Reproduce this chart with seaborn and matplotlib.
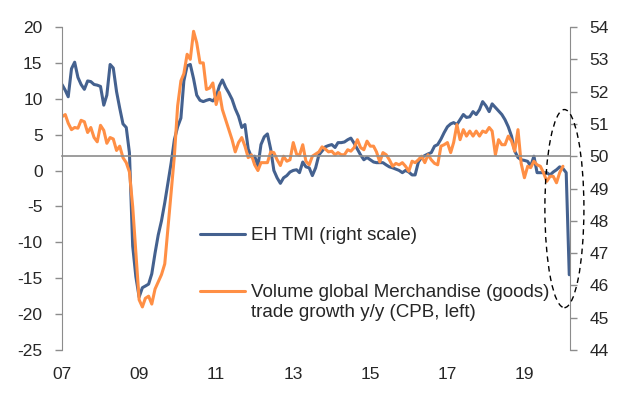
import numpy as np
import pandas as pd
import seaborn as sns
import matplotlib.pyplot as plt
import matplotlib.dates as mdates
from matplotlib.patches import Ellipse
from matplotlib.legend_handler import HandlerLine2D

sns.set_style("white")
plt.rcParams['font.family'] = ['Liberation Sans', 'DejaVu Sans']

# monthly data, Jan 2007 onwards
months = pd.date_range("2007-01-01", "2020-03-01", freq="MS")

# EH TMI (right scale), Jan 2007 - Mar 2020
tmi = [52.22, 52.04, 51.84, 52.71, 52.91, 52.44, 52.22, 52.07, 52.33, 52.31,
       52.22, 52.20, 52.16, 51.58, 51.89, 52.84, 52.73, 52.00, 51.49, 51.00,
       50.89, 50.11, 47.22, 46.27, 45.64, 45.93, 45.98, 46.04, 46.36, 47.00,
       47.56, 48.00, 48.56, 49.18, 49.80, 50.51, 50.91, 51.18, 52.33, 52.80,
       52.84, 52.40, 51.89, 51.73, 51.69, 51.73, 51.76, 51.71, 51.84, 52.18,
       52.36, 52.13, 51.96, 51.76, 51.47, 51.24, 50.89, 50.98, 50.22, 49.98,
       50.00, 49.69, 50.36, 50.60, 50.69, 50.22, 49.56, 49.33, 49.16, 49.33,
       49.40, 49.51, 49.56, 49.58, 49.49, 49.82, 49.67, 49.64, 49.40, 49.64,
       50.04, 50.16, 50.29, 50.33, 50.36, 50.27, 50.42, 50.42, 50.44, 50.51,
       50.56, 50.40, 50.22, 50.04, 49.89, 49.96, 49.89, 49.82, 49.80, 49.80,
       49.80, 49.73, 49.67, 49.64, 49.60, 49.56, 49.49, 49.56, 49.51, 49.42,
       49.42, 49.82, 49.96, 50.02, 50.07, 50.11, 50.31, 50.36, 50.53, 50.73,
       50.91, 51.00, 51.04, 50.98, 51.13, 51.29, 51.20, 51.22, 51.38, 51.29,
       51.44, 51.69, 51.56, 51.38, 51.62, 51.51, 51.40, 51.29, 51.13, 50.91,
       50.62, 50.16, 49.96, 49.89, 49.87, 49.84, 49.69, 50.00, 49.49, 49.49,
       49.49, 49.49, 49.42, 49.51, 49.58, 49.67, 49.62, 49.49, 46.33]

# World merchandise trade volume growth y/y % (left scale), Jan 2007 - Jan 2020
trade = [7.5, 7.8, 6.6, 5.7, 6.0, 5.9, 7.0, 6.8, 5.3, 6.0,
         4.6, 4.0, 6.3, 5.6, 3.8, 4.6, 4.4, 2.8, 3.4, 1.8,
         1.1, -0.2, -5.0, -11.5, -18.0, -19.0, -17.8, -17.5, -18.6, -16.5,
         -15.5, -14.5, -13.0, -8.0, -3.0, 2.0, 9.0, 12.5, 13.5, 16.2,
         15.5, 19.4, 17.8, 15.0, 15.0, 11.3, 11.5, 12.2, 9.2, 10.9,
         8.5, 7.1, 5.7, 4.3, 2.6, 3.9, 4.6, 3.4, 1.8, 2.2,
         0.8, 0.0, 1.1, 1.1, 1.1, 2.6, 2.5, 1.5, 0.7, 2.0,
         1.3, 1.5, 3.9, 2.3, 2.1, 3.6, 1.3, 0.8, 2.0, 2.3,
         2.6, 3.3, 3.0, 2.6, 2.7, 2.2, 2.5, 2.2, 2.2, 2.9,
         2.7, 3.2, 4.3, 3.2, 2.9, 4.1, 3.4, 3.4, 2.6, 1.2,
         2.5, 2.2, 1.5, 0.6, 1.0, 0.8, 1.1, 0.6, -0.1, 1.3,
         1.1, 1.5, 2.0, 1.1, 2.2, 1.5, 1.0, 0.8, 3.4, 3.6,
         3.9, 2.5, 3.9, 6.4, 4.3, 5.7, 4.8, 5.5, 4.8, 5.5,
         4.8, 5.5, 5.3, 6.0, 5.5, 2.2, 4.3, 3.6, 3.6, 4.8,
         4.1, 2.7, 5.7, 1.0, -1.0, 0.6, 0.4, 1.3, 0.8, 0.6,
         -0.3, -1.5, -0.8, -0.8, -1.7, -0.3, 0.6]

tick_years = [2007, 2009, 2011, 2013, 2015, 2017, 2019]
left_ticks = [-25, -20, -15, -10, -5, 0, 5, 10, 15, 20]
right_ticks = [44, 45, 46, 47, 48, 49, 50, 51, 52, 53, 54]

df_tmi = pd.DataFrame({"date": mdates.date2num(months), "tmi": tmi})
df_trade = pd.DataFrame({"date": mdates.date2num(months[:len(trade)]), "trade": trade})

blue = "#44618F"
orange = "#FF8F45"
grey = "#8C8C8C"


class RaisedLine(HandlerLine2D):
    """Legend line aligned with the first line of a two-line label."""
    def __init__(self, dy, **kw):
        super().__init__(**kw)
        self.dy = dy

    def create_artists(self, legend, orig_handle, xdescent, ydescent, width,
                       height, fontsize, trans):
        return super().create_artists(legend, orig_handle, xdescent,
                                      ydescent - 2 * self.dy, width, height,
                                      fontsize, trans)


fig = plt.figure(figsize=(6.39, 3.93), dpi=100)
ax = fig.add_axes([62 / 639, 1 - 350 / 393, 508 / 639, 323 / 393])
ax2 = ax.twinx()

sns.lineplot(data=df_tmi, x="date", y="tmi", ax=ax2, color=blue, linewidth=2.2,
             label="EH TMI (right scale)", legend=False)
sns.lineplot(data=df_trade, x="date", y="trade", ax=ax, color=orange, linewidth=2.2,
             label="Volume global Merchandise (goods)\ntrade growth y/y (CPB, left)",
             legend=False)

# orange drawn over blue
ax.set_zorder(ax2.get_zorder() + 1)
ax.patch.set_visible(False)

x0 = mdates.date2num(pd.Timestamp("2007-01-01"))
x1 = mdates.date2num(pd.Timestamp("2020-03-08"))
ax.set_xlim(x0, x1)
ax.set_ylim(-25, 20)
ax2.set_ylim(44, 54)

tick_pos = mdates.date2num([pd.Timestamp(f"{y}-01-01") for y in tick_years])
ax.set_xticks(tick_pos)
ax.set_xticklabels([f"{y % 100:02d}" for y in tick_years])

# x axis line sits at 2 on the left scale (= 50 on the right scale)
ax.spines["bottom"].set_position(("data", 2))
ax.tick_params(axis="x", direction="out", length=5, width=1, color=grey,
               labelbottom=False)
# labels at the bottom of the plot area come from the twin's shared x axis
ax2.xaxis.set_visible(True)
ax2.tick_params(axis="x", length=0, pad=12, labelsize=12.5, labelbottom=True)

ax.set_yticks(left_ticks)
ax.set_yticklabels([str(v) for v in left_ticks])
ax.tick_params(axis="y", direction="out", length=5, width=1, color=grey, pad=9, labelsize=12.5)
ax2.set_yticks(right_ticks)
ax2.tick_params(axis="y", direction="out", length=5, width=1, color=grey, pad=9, labelsize=12.5)
ax.set_xlabel("")
ax.set_ylabel("")
ax2.set_xlabel("")
ax2.set_ylabel("")

for a in (ax, ax2):
    for s in a.spines.values():
        s.set_visible(False)
ax.spines["left"].set_visible(True)
ax.spines["left"].set_color(grey)
ax.spines["bottom"].set_visible(True)
ax.spines["bottom"].set_color(grey)
ax.spines["bottom"].set_linewidth(1.2)
ax2.spines["right"].set_visible(True)
ax2.spines["right"].set_color(grey)

# dashed ellipse around the last observations
ell = Ellipse((mdates.date2num(pd.Timestamp("2020-01-15")), -5.3), width=370, height=27.6,
              fill=False, edgecolor="black", linewidth=1, linestyle=(0, (4, 3)),
              clip_on=False, zorder=5)
ax.add_patch(ell)

handles = ax2.get_lines()[:1] + ax.get_lines()[:1]
labels = [h.get_label() for h in handles]
ax.legend(handles, labels, loc="upper left", bbox_to_anchor=(200 / 639, 1 - 227 / 393),
          bbox_transform=fig.transFigure, frameon=False, fontsize=13.5,
          handlelength=2.4, handletextpad=0.3, borderpad=0, borderaxespad=0,
          labelspacing=2.15,
          handler_map={handles[1]: RaisedLine(dy=8.1)})

fig.savefig("out.png", dpi=100)
